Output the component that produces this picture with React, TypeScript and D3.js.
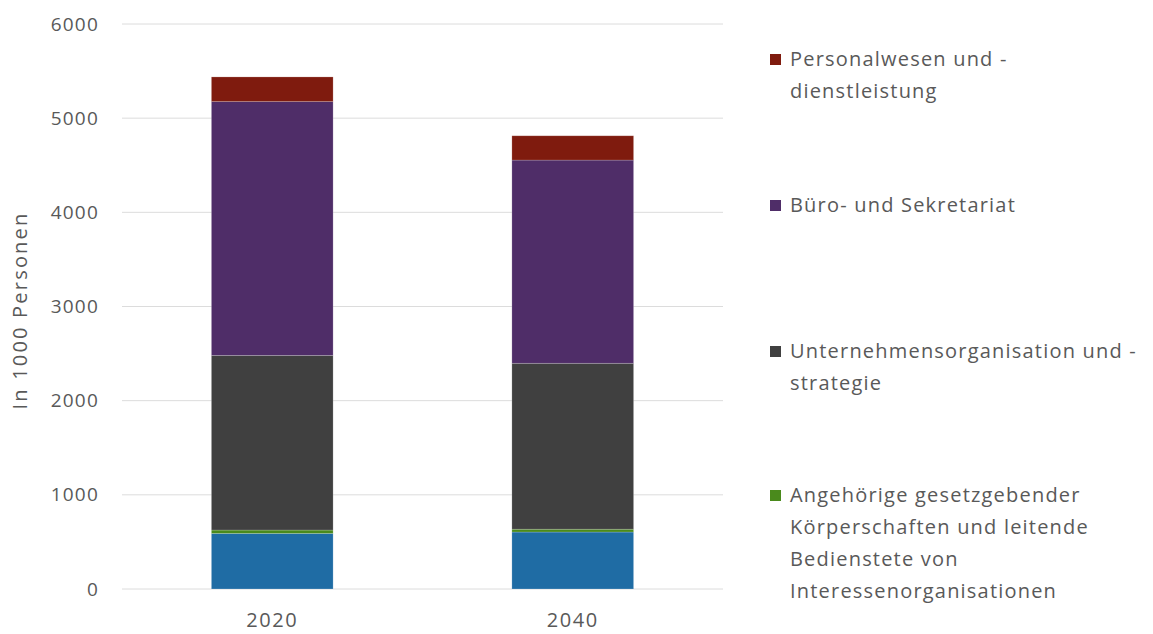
import React, { useEffect, useRef } from 'react';
import * as d3 from 'd3';

// categories (years) and stacked series, values in 1000 persons
const years = ['2020', '2040'];
const seriesKeys = ['base', 'angehoerige', 'unternehmen', 'buero', 'personal'];
const baseValues = [590, 605];
const angehoerigeValues = [36, 30];
const unternehmenValues = [1855, 1762];
const bueroValues = [2695, 2158];
const personalValues = [262, 258];
const yTicks = [0, 1000, 2000, 3000, 4000, 5000, 6000];

const colors: Record<string, string> = {
  base: '#1f6ca4',
  angehoerige: '#4a8a1c',
  unternehmen: '#404040',
  buero: '#4f2d68',
  personal: '#7f1b0e',
};

// legend entries, top to bottom (the blue series has no entry)
const legendItems = [
  { key: 'personal', lines: ['Personalwesen und -', 'dienstleistung'] },
  { key: 'buero', lines: ['Büro- und Sekretariat'] },
  { key: 'unternehmen', lines: ['Unternehmensorganisation und -', 'strategie'] },
  {
    key: 'angehoerige',
    lines: ['Angehörige gesetzgebender', 'Körperschaften und leitende', 'Bedienstete von', 'Interessenorganisationen'],
  },
];

const App = () => {
  const svgRef = useRef<SVGSVGElement>(null);

  useEffect(() => {
    if (!svgRef.current) return;
    const svg = d3.select(svgRef.current);
    svg.selectAll('*').remove();

    const width = 1153;
    const height = 634;
    const margin = { top: 24, right: 430, bottom: 45, left: 122 };
    const font = "'Open Sans', sans-serif";
    const textColor = '#595959';

    const rows = years.map((year, i) => ({
      year,
      base: baseValues[i],
      angehoerige: angehoerigeValues[i],
      unternehmen: unternehmenValues[i],
      buero: bueroValues[i],
      personal: personalValues[i],
    }));

    const x = d3.scaleBand()
      .domain(years)
      .range([margin.left, width - margin.right])
      .paddingInner(0.595)
      .paddingOuter(0.2975);

    const y = d3.scaleLinear()
      .domain([0, 6000])
      .range([height - margin.bottom, margin.top]);

    // gridlines
    svg.append('g')
      .selectAll('line')
      .data(yTicks)
      .join('line')
      .attr('x1', margin.left)
      .attr('x2', width - margin.right)
      .attr('y1', d => y(d))
      .attr('y2', d => y(d))
      .attr('stroke', '#dcdcdc')
      .attr('stroke-width', 1);

    // y tick labels
    svg.append('g')
      .selectAll('text')
      .data(yTicks)
      .join('text')
      .attr('x', 99)
      .attr('y', d => y(d))
      .attr('dy', '0.35em')
      .attr('text-anchor', 'end')
      .attr('font-family', font)
      .attr('font-size', 19)
      .attr('letter-spacing', 1.2)
      .attr('fill', textColor)
      .text(d => d);

    // y axis title
    svg.append('text')
      .attr('transform', `translate(27,${(y(0) + y(6000)) / 2 + 4}) rotate(-90)`)
      .attr('text-anchor', 'middle')
      .attr('font-family', font)
      .attr('font-size', 20)
      .attr('letter-spacing', 2.2)
      .attr('fill', textColor)
      .text('In 1000 Personen');

    // stacked bars
    const stack = d3.stack<any>().keys(seriesKeys);
    const stacked = stack(rows);

    svg.append('g')
      .selectAll('g')
      .data(stacked)
      .join('g')
      .attr('fill', d => colors[d.key])
      .selectAll('rect')
      .data(d => d)
      .join('rect')
      .attr('x', d => x(d.data.year)!)
      .attr('width', x.bandwidth())
      .attr('y', d => y(d[1]))
      .attr('height', d => y(d[0]) - y(d[1]))
      .attr('stroke', '#ffffff')
      .attr('stroke-opacity', 0.25)
      .attr('stroke-width', 0.75);

    // x labels
    svg.append('g')
      .selectAll('text')
      .data(years)
      .join('text')
      .attr('x', d => x(d)! + x.bandwidth() / 2)
      .attr('y', 627)
      .attr('text-anchor', 'middle')
      .attr('font-family', font)
      .attr('font-size', 20)
      .attr('letter-spacing', 1.6)
      .attr('fill', textColor)
      .text(d => d);

    // legend
    const legendTop = [59, 205, 351, 495];
    const lineHeight = 32;
    const legend = svg.append('g');
    legendItems.forEach((item, i) => {
      const g = legend.append('g').attr('transform', `translate(770,${legendTop[i]})`);
      g.append('rect')
        .attr('x', 0)
        .attr('y', -5)
        .attr('width', 11)
        .attr('height', 11)
        .attr('fill', colors[item.key]);
      item.lines.forEach((line, j) => {
        g.append('text')
          .attr('x', 20)
          .attr('y', j * lineHeight)
          .attr('dy', '0.35em')
          .attr('font-family', font)
          .attr('font-size', 20)
          .attr('letter-spacing', 1.2)
          .attr('fill', textColor)
          .text(line);
      });
    });
  }, []);

  return (
    <svg
      ref={svgRef}
      width={1153}
      height={634}
      style={{ position: 'absolute', left: 0, top: 0, background: '#ffffff' }}
    />
  );
};

export default App;
